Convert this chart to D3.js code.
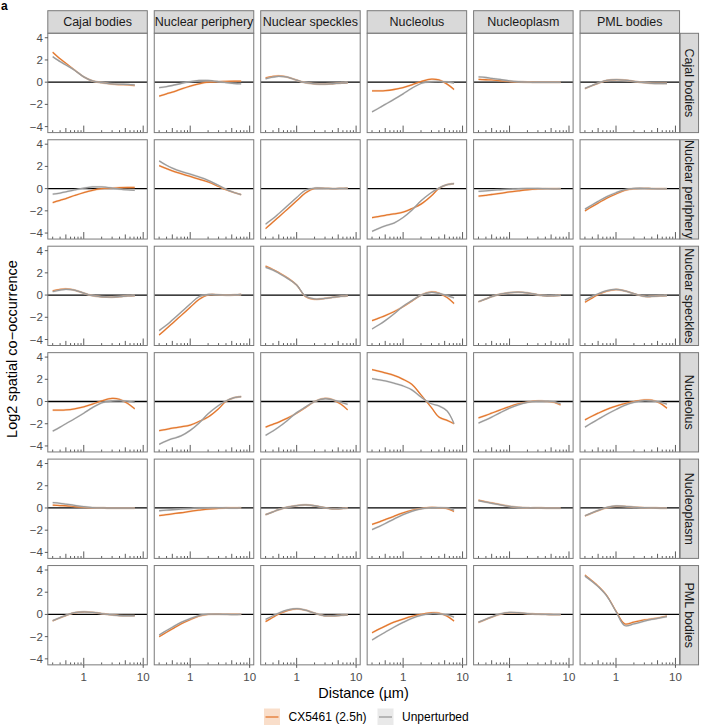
<!DOCTYPE html>
<html><head><meta charset="utf-8">
<script src="https://cdn.jsdelivr.net/npm/d3@7"></script>
<style>body{margin:0;background:#fff;} svg{display:block;font-family:"Liberation Sans",Arial,Helvetica,sans-serif;}</style>
</head><body><svg id="chart" width="703" height="725"></svg>
<script>
// ---------- data ----------
const categories = ["Cajal bodies","Nuclear periphery","Nuclear speckles","Nucleolus","Nucleoplasm","PML bodies"];
const distances = [0.3,0.4,0.5,0.7,1,1.4,2,3,4,5.5,7.2];
const yTicks = [4,2,0,-2,-4];
const xTicks = [1,10];
const seriesNames = ["CX5461 (2.5h)","Unperturbed"];
// compartment pairs (row, col); the matrix is symmetric
const pairs = [[0,0],[0,1],[0,2],[0,3],[0,4],[0,5],[1,1],[1,2],[1,3],[1,4],[1,5],[2,2],[2,3],[2,4],[2,5],[3,3],[3,4],[3,5],[4,4],[4,5],[5,5]];
const cx5461 = [
  [2.7,2.1,1.7,1.1,0.48,0.12,-0.05,-0.18,-0.22,-0.24,-0.3],
  [-1.25,-1.05,-0.9,-0.62,-0.35,-0.15,0,0.05,0.08,0.1,0.1],
  [0.38,0.52,0.56,0.45,0.18,-0.05,-0.15,-0.18,-0.14,-0.08,-0.05],
  [-0.78,-0.78,-0.76,-0.66,-0.48,-0.24,0.06,0.28,0.2,-0.18,-0.66],
  [0.25,0.22,0.2,0.13,0.06,0.02,0,-0.02,-0.02,-0.02,-0.02],
  [-0.58,-0.3,-0.1,0.15,0.22,0.18,0.08,-0.05,-0.1,-0.1,-0.1],
  [2.07,1.8,1.6,1.35,1.1,0.85,0.6,0.2,-0.1,-0.35,-0.55],
  [-3.6,-3.0,-2.55,-1.85,-1.1,-0.4,0.02,0.03,0,0.02,0.05],
  [-2.62,-2.5,-2.4,-2.28,-2.12,-1.8,-1.4,-0.65,0.02,0.35,0.45],
  [-0.68,-0.6,-0.53,-0.43,-0.3,-0.2,-0.1,-0.03,0,0,0],
  [-2.0,-1.6,-1.3,-0.85,-0.47,-0.15,0,0.02,0,0,0],
  [2.6,2.3,2.02,1.55,0.9,-0.12,-0.38,-0.3,-0.2,-0.12,-0.08],
  [-2.3,-2.05,-1.85,-1.5,-1.05,-0.55,0,0.28,0.18,-0.22,-0.75],
  [-0.6,-0.35,-0.15,0.08,0.22,0.27,0.2,0.02,-0.08,-0.06,-0.02],
  [-0.65,-0.25,0.05,0.35,0.5,0.38,0.12,-0.12,-0.12,-0.08,-0.05],
  [2.87,2.72,2.58,2.35,2.0,1.55,0.6,-0.55,-1.4,-1.7,-2.0],
  [-1.48,-1.25,-1.05,-0.75,-0.45,-0.22,-0.05,0.05,0.02,-0.05,-0.3],
  [-1.65,-1.3,-1.05,-0.7,-0.42,-0.18,0,0.15,0.12,-0.15,-0.6],
  [0.7,0.55,0.45,0.3,0.15,0.05,0,0,-0.02,-0.02,-0.02],
  [-0.72,-0.44,-0.24,0.03,0.16,0.14,0.07,0.02,0,-0.01,-0.02],
  [3.55,3.0,2.55,1.7,0.3,-0.85,-0.7,-0.5,-0.4,-0.28,-0.15]
];
const unperturbed = [
  [2.3,1.85,1.55,1.08,0.48,0.12,-0.04,-0.15,-0.18,-0.2,-0.25],
  [-0.5,-0.4,-0.3,-0.12,0.05,0.15,0.15,0.05,-0.05,-0.12,-0.15],
  [0.3,0.45,0.52,0.45,0.18,-0.05,-0.15,-0.18,-0.14,-0.08,-0.05],
  [-2.67,-2.3,-2.0,-1.55,-1.05,-0.55,-0.12,0.05,0.08,0.03,-0.08],
  [0.48,0.42,0.35,0.24,0.12,0.04,0,-0.02,-0.02,-0.02,-0.02],
  [-0.55,-0.28,-0.08,0.16,0.23,0.18,0.08,-0.04,-0.1,-0.12,-0.12],
  [2.5,2.1,1.85,1.55,1.3,1.05,0.75,0.3,-0.05,-0.35,-0.55],
  [-3.2,-2.7,-2.25,-1.55,-0.8,-0.15,0.05,0.03,0,0.02,0.05],
  [-3.85,-3.55,-3.35,-3.1,-2.6,-1.95,-1.1,-0.35,0.05,0.35,0.45],
  [-0.25,-0.2,-0.16,-0.1,-0.05,0,0.02,0.02,0,-0.02,0],
  [-1.85,-1.45,-1.15,-0.72,-0.37,-0.1,0.02,0.03,0,-0.02,0],
  [2.5,2.25,1.97,1.5,0.9,-0.08,-0.35,-0.3,-0.2,-0.12,-0.08],
  [-3.05,-2.65,-2.3,-1.7,-1.0,-0.5,0,0.25,0.15,-0.05,-0.25],
  [-0.6,-0.35,-0.15,0.08,0.22,0.27,0.2,0.02,-0.08,-0.06,-0.02],
  [-0.45,-0.12,0.12,0.4,0.52,0.38,0.12,-0.12,-0.12,-0.08,-0.05],
  [2.07,1.95,1.85,1.65,1.4,1.05,0.4,-0.2,-0.4,-0.85,-2.0],
  [-1.95,-1.65,-1.4,-1.0,-0.6,-0.3,-0.08,0.03,0.03,0,-0.2],
  [-2.3,-1.9,-1.6,-1.15,-0.72,-0.35,-0.08,0.08,0.05,-0.05,-0.24],
  [0.65,0.52,0.42,0.28,0.14,0.05,0,0,-0.02,-0.02,-0.02],
  [-0.7,-0.42,-0.22,0.05,0.18,0.15,0.08,0.02,0,-0.01,-0.02],
  [3.45,2.95,2.5,1.65,0.25,-1.0,-0.85,-0.6,-0.45,-0.32,-0.2]
];
const logTickValues = [0.3,0.4,0.5,0.6,0.7,0.8,0.9,1,2,3,4,5,6,7,8,9,10];

// ---------- layout / style ----------
const colors = ["#E3782F","#9B9B9B"];
const ribbonFill = ["#F2B58A","#CFCFCF"];
const ribbonHalf = 0.1;
const left0 = 47.8, top0 = 33.3, panelW = 99.5, panelH = 99.3, step = 106.45;
const borderCol = "#7a7a7a", textCol = "#4d4d4d";

const svg = d3.select("#chart");
const x = d3.scaleLog().domain([Math.pow(10,-0.605), Math.pow(10,1.069)]).range([0, panelW]);
const y = d3.scaleLinear().domain([-4.54, 4.40]).range([panelH, 0]);

// label "a"
svg.append("text").attr("x",1).attr("y",10).attr("font-size",12).attr("font-weight","bold").attr("fill","#000").text("a");

function pairIndex(r,c){
  const a = Math.min(r,c), b = Math.max(r,c);
  return pairs.findIndex(p => p[0]===a && p[1]===b);
}

const curve = d3.curveCatmullRom.alpha(0.5);
const line = d3.line().x(d=>x(d[0])).y(d=>y(d[1])).curve(curve);
const area = d3.area().x(d=>x(d[0])).y0(d=>y(d[1]-ribbonHalf)).y1(d=>y(d[1]+ribbonHalf)).curve(curve);

for (let r=0;r<6;r++){
  for (let c=0;c<6;c++){
    const px = left0 + c*step, py = top0 + r*step;
    const g = svg.append("g").attr("transform",`translate(${px},${py})`);
    g.append("rect").attr("width",panelW).attr("height",panelH).attr("fill","#fff");
    const clip = "clip"+r+"_"+c;
    g.append("clipPath").attr("id",clip).append("rect").attr("width",panelW).attr("height",panelH);
    const inner = g.append("g").attr("clip-path",`url(#${clip})`);
    inner.append("line").attr("x1",0).attr("x2",panelW).attr("y1",y(0)).attr("y2",y(0)).attr("stroke","#000").attr("stroke-width",1.3);
    const idx = pairIndex(r,c);
    [cx5461, unperturbed].forEach((ser, s) => {
      const pts = distances.map((d,i)=>[d, ser[idx][i]]);
      inner.append("path").attr("d",area(pts)).attr("fill",ribbonFill[s]).attr("fill-opacity",0.45);
      inner.append("path").attr("d",line(pts)).attr("fill","none").attr("stroke",colors[s]).attr("stroke-width",1.3);
    });
    logTickValues.forEach(v=>{
      const m = Math.round(v/Math.pow(10,Math.floor(Math.log10(v)+1e-9)));
      const len = (m===1)?7:(m===5?4.6:2.4);
      inner.append("line").attr("x1",x(v)).attr("x2",x(v)).attr("y1",panelH).attr("y2",panelH-len).attr("stroke","#333").attr("stroke-width",0.8);
    });
    g.append("rect").attr("width",panelW).attr("height",panelH).attr("fill","none").attr("stroke",borderCol).attr("stroke-width",1);

    if (c===0){
      yTicks.forEach(t=>{
        g.append("line").attr("x1",-3).attr("x2",0).attr("y1",y(t)).attr("y2",y(t)).attr("stroke","#333").attr("stroke-width",0.8);
        g.append("text").attr("x",-5).attr("y",y(t)).attr("dy","0.35em").attr("text-anchor","end")
          .attr("font-size",11.5).attr("fill",textCol).text(t<0?"\u2212"+Math.abs(t):String(t));
      });
    }
    if (r===5){
      xTicks.forEach(t=>{
        g.append("line").attr("x1",x(t)).attr("x2",x(t)).attr("y1",panelH).attr("y2",panelH+3).attr("stroke","#333").attr("stroke-width",0.8);
        g.append("text").attr("x",x(t)).attr("y",panelH+16.5).attr("text-anchor","middle")
          .attr("font-size",11.5).attr("fill",textCol).text(String(t));
      });
    }
    if (r===0){
      svg.append("rect").attr("x",px).attr("y",10.7).attr("width",panelW).attr("height",22.4)
        .attr("fill","#d9d9d9").attr("stroke",borderCol).attr("stroke-width",1);
      svg.append("text").attr("x",px+panelW/2).attr("y",10.7+11.2).attr("dy","0.36em").attr("text-anchor","middle")
        .attr("font-size",12.5).attr("fill","#1a1a1a").text(categories[c]);
    }
    if (c===5){
      const sx = px+panelW+0.6;
      svg.append("rect").attr("x",sx).attr("y",py).attr("width",18.4).attr("height",panelH)
        .attr("fill","#d9d9d9").attr("stroke",borderCol).attr("stroke-width",1);
      svg.append("text").attr("transform",`translate(${sx+9.2},${py+panelH/2}) rotate(90)`).attr("dy","0.36em")
        .attr("text-anchor","middle").attr("font-size",12.5).attr("fill","#1a1a1a").text(categories[r]);
    }
  }
}

svg.append("text").attr("x",363.5).attr("y",698).attr("text-anchor","middle").attr("font-size",14.5).attr("fill","#000").text("Distance (\u00b5m)");
svg.append("text").attr("transform","translate(12,349) rotate(-90)").attr("dy","0.36em").attr("text-anchor","middle")
  .attr("font-size",14.5).attr("fill","#000").text("Log2 spatial co\u2212occurrence");

const legendX = [264, 377.5];
seriesNames.forEach((nm,s)=>{
  const lx = legendX[s], ly = 717;
  svg.append("rect").attr("x",lx).attr("y",ly-8.5).attr("width",16).attr("height",17).attr("fill",ribbonFill[s]).attr("fill-opacity",0.45);
  svg.append("line").attr("x1",lx+1.5).attr("x2",lx+14.5).attr("y1",ly).attr("y2",ly).attr("stroke",colors[s]).attr("stroke-width",1.3);
  svg.append("text").attr("x",lx+24.5).attr("y",ly).attr("dy","0.36em").attr("font-size",12).attr("fill","#000").text(nm);
});
</script>
</body></html>
